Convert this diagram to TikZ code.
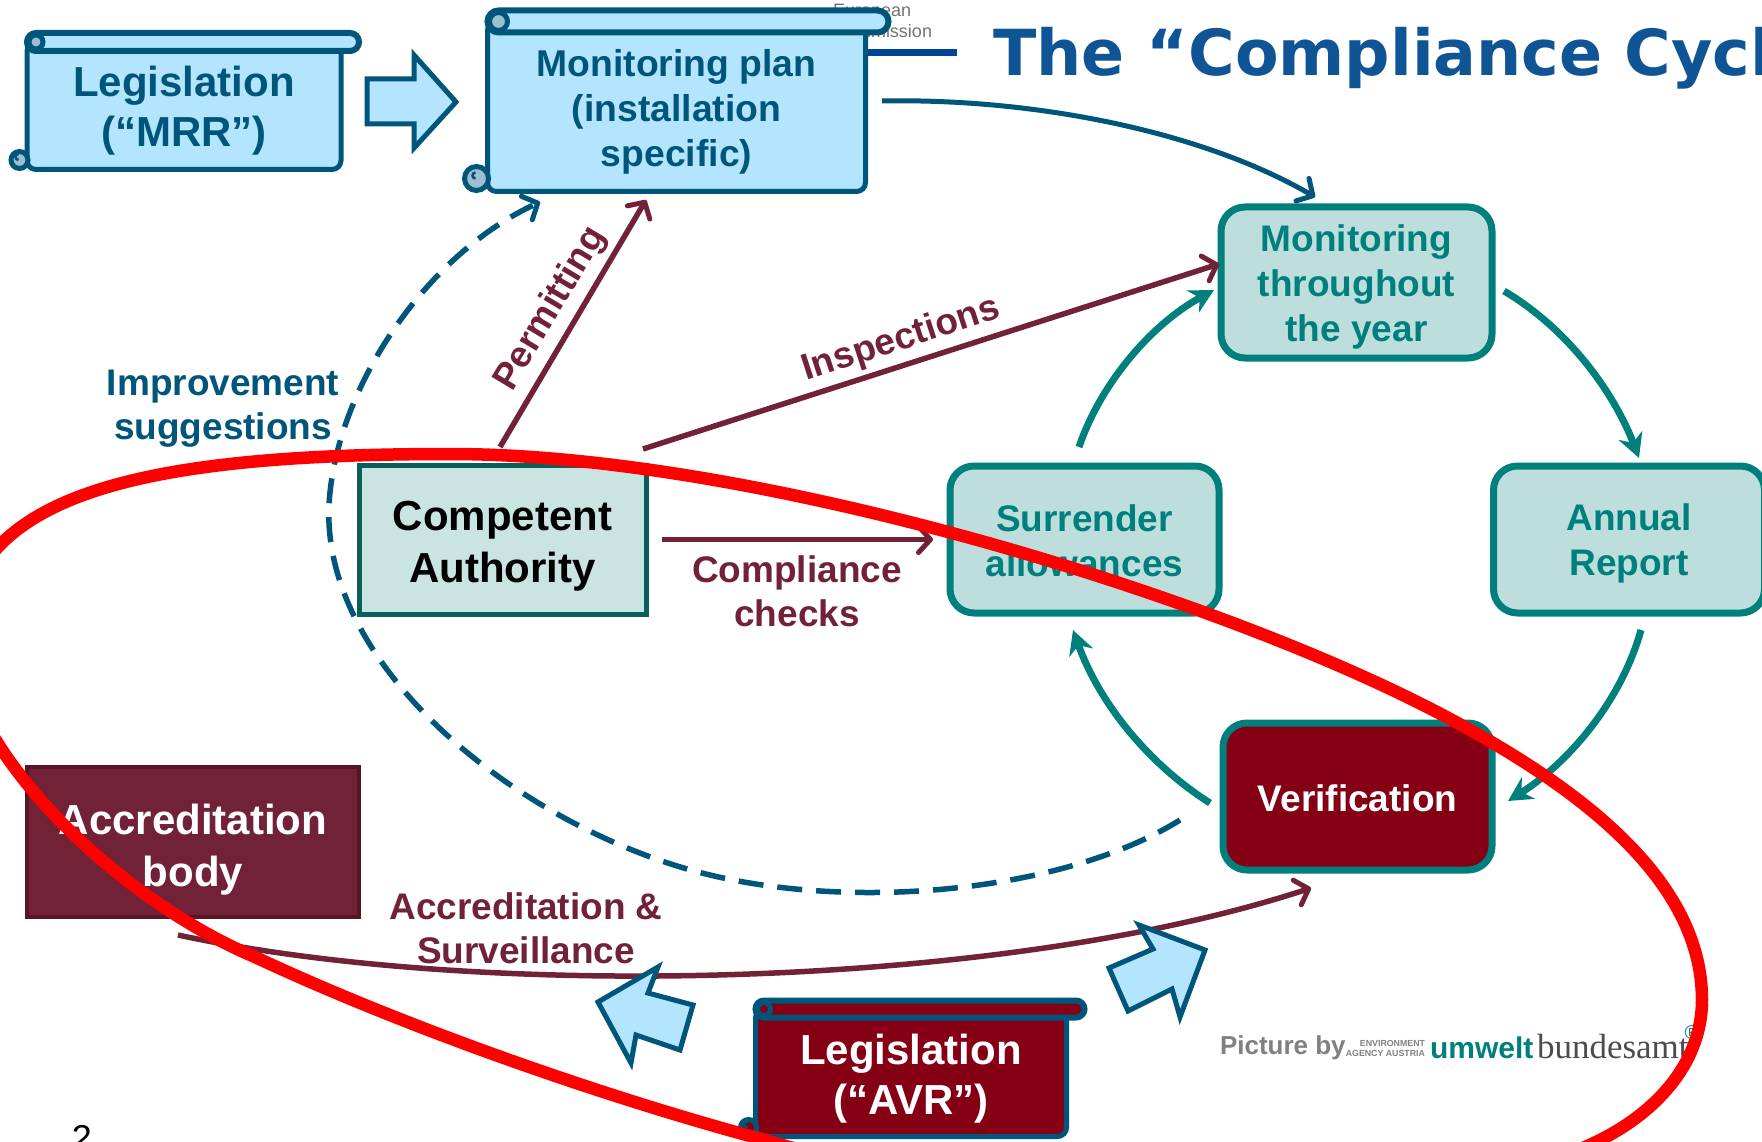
\documentclass[tikz,border=0pt]{standalone}
\usepackage{fontspec}
\setmainfont{Liberation Sans}
\newfontfamily\titlefont{DejaVu Sans}
\newfontfamily\bundesfont{Liberation Serif}
\usepackage{tikz}
\usetikzlibrary{arrows.meta}

\definecolor{scrollblue}{HTML}{00557A}
\definecolor{skyfill}{HTML}{B3E5FF}
\definecolor{curltint}{HTML}{9CBFCF}
\definecolor{cycteal}{HTML}{00807C}
\definecolor{cycfill}{HTML}{BDDEDD}
\definecolor{wine}{HTML}{722236}
\definecolor{darkred}{HTML}{850014}
\definecolor{ruleblue}{HTML}{004494}
\definecolor{titleblue}{HTML}{0F5596}
\definecolor{cafill}{HTML}{CAE4E1}
\definecolor{caedge}{HTML}{0A5F5C}
\definecolor{accredge}{HTML}{561626}

% node, half roll, overhang, curl radius, roll fill, curl fill
\newcommand{\scrollparts}[6]{
\draw[line width=6pt, draw=scrollblue, fill=#5, rounded corners=#2pt] ([yshift=#2pt]#1.north west) rectangle ([xshift=#3pt,yshift=-#2pt]#1.north east);
\draw[line width=5pt, draw=scrollblue, fill=#6] ([xshift=#2pt]#1.north west) circle (#2pt-2pt);
\draw[line width=5pt, draw=scrollblue, fill=#6] ([xshift=-#4pt+2pt,yshift=#4pt]#1.south west) circle (#4pt-1pt);
\draw[line width=2.5pt, draw=scrollblue] ([xshift=-#4pt+1pt,yshift=#4pt]#1.south west) arc (270:90:3pt);
}
% taller first line, pushes the text of a node down
\newcommand{\firstline}[1]{\rule{0pt}{#1pt}}

\begin{document}
\begin{tikzpicture}[x=1pt,y=-1pt,
  every node/.style={font=\bfseries, align=center, outer sep=0pt, inner sep=0pt},
  scrollbody/.style={draw=scrollblue, line width=5pt, fill=skyfill, text=scrollblue, rounded corners=9pt, font=\bfseries\fontsize{42}{50}\selectfont},
  cyclebox/.style={draw=cycteal, line width=7pt, fill=cycfill, text=cycteal, rounded corners=24pt, minimum height=147pt, font=\bfseries\fontsize{37}{45}\selectfont},
  labeltext/.style={font=\bfseries\fontsize{37}{44}\selectfont},
  winearrow/.style={draw=wine, line width=5.5pt, -{Straight Barb[length=12pt,width=26pt,line width=5pt,round]}},
  bluearrow/.style={draw=scrollblue, line width=5pt, -{Straight Barb[length=12pt,width=26pt,line width=5pt,round]}},
  tealarrow/.style={draw=cycteal, line width=7pt, -{Stealth[length=24pt,width=25pt]}},
  dasharrow/.style={draw=scrollblue, line width=5.5pt, dash pattern=on 25pt off 14pt, -{Straight Barb[length=12pt,width=26pt,line width=5pt,round]}},
  blockarrow/.style={draw=scrollblue, line width=5pt, fill=skyfill, miter limit=6},
  redring/.style={draw=red, line width=12.5pt}]
\useasboundingbox (0,0) rectangle (1762,1142);
\clip (0,0) rectangle (1762,1142);

\node[anchor=base west, text=black!55, font=\fontsize{18}{21}\selectfont, align=left] (eclogo) at (833,38) {European\\Commission};
\coordinate (rulestart) at (860,53);
\coordinate (ruleend) at (957,53);
\draw[draw=ruleblue, line width=7pt] (rulestart) -- (ruleend);
\node[anchor=base west, text=titleblue, font=\titlefont\bfseries\fontsize{63.5}{70}\selectfont] (title) at (993,76) {The “Compliance Cycl};
\node[anchor=base, text=black, font=\mdseries\fontsize{36}{40}\selectfont] (pageno) at (82,1150) {2};

\node[scrollbody, minimum width=314pt, minimum height=127.5pt] (mrr) at (184,105.75) {\firstline{40}Legislation\\(“MRR”)};
\scrollparts{mrr}{9}{18}{9.5}{skyfill}{curltint}
\node[scrollbody, minimum width=378pt, minimum height=170pt, font=\bfseries\fontsize{37.3}{45}\selectfont] (plan) at (676.5,106.5) {\firstline{38}Monitoring plan\\(installation\\specific)};
\scrollparts{plan}{11}{23}{13}{skyfill}{curltint}
\draw[blockarrow] (367,79) -- (414,79) -- (414,55) -- (456,102) -- (414,148) -- (414,124) -- (367,124) -- cycle;

\node[cyclebox, minimum width=271pt, minimum height=151pt] (monyear) at (1356.5,282.5) {\firstline{36}Monitoring\\throughout\\the year};
\node[cyclebox, minimum width=269pt] (surr) at (1084.5,539.5) {\firstline{29}Surrender\\allowances};
\node[cyclebox, minimum width=271pt] (annual) at (1629,539.5) {\firstline{35}Annual\\Report};
\node[cyclebox, minimum width=269pt, fill=darkred, text=white] (verif) at (1357.5,796.5) {\firstline{30}Verification};

\node[draw=caedge, line width=5pt, fill=cafill, minimum width=287pt, minimum height=149pt, font=\bfseries\fontsize{42}{52}\selectfont] (ca) at (502.5,539.5) {\firstline{43}Competent\\Authority};
\node[draw=accredge, line width=4pt, fill=wine, text=white, minimum width=332pt, minimum height=150pt, font=\bfseries\fontsize{42}{52}\selectfont] (accr) at (193,842) {\firstline{45}Accreditation\\body};

\draw[bluearrow] ([xshift=16.5pt,yshift=5.5pt]plan.east) .. controls (1030,98) and (1200,130) .. ([xshift=-41.5pt,yshift=10pt]monyear.north);
\draw[winearrow] ([xshift=-2.5pt,yshift=18pt]ca.north) -- ([xshift=-30.5pt,yshift=-8.5pt]plan.south);
\draw[winearrow] ([xshift=-3pt,yshift=16pt]ca.north east) -- ([xshift=-2pt,yshift=18.5pt]monyear.west);
\draw[winearrow] ([xshift=16pt]ca.east) -- ([xshift=-17pt]surr.west);
\draw[winearrow] ([xshift=-15pt,yshift=-18pt]accr.south) .. controls (480,1000) and (1000,990) .. ([xshift=-46.5pt,yshift=-18pt]verif.south);
\draw[dasharrow] ([xshift=-43pt,yshift=-23.5pt]verif.west) .. controls (1060,895) and (830,915) .. (674,865) .. controls (500,810) and (322,660) .. (329,505) .. controls (335,390) and (425,255) .. ([xshift=-136.5pt,yshift=-10.5pt]plan.south);

\draw[tealarrow] ([xshift=12pt,yshift=-8.5pt]monyear.east) .. controls (1570,330) and (1615,395) .. ([xshift=10pt,yshift=8pt]annual.north);
\draw[tealarrow] ([xshift=12pt,yshift=-17pt]annual.south) .. controls (1620,705) and (1565,765) .. ([xshift=16pt,yshift=-4.5pt]verif.east);
\draw[tealarrow] ([xshift=-13pt,yshift=-6.5pt]verif.west) .. controls (1150,765) and (1100,705) .. ([xshift=-11.5pt,yshift=-17pt]surr.south);
\draw[tealarrow] ([xshift=-5.5pt,yshift=19pt]surr.north) .. controls (1100,385) and (1150,325) .. ([xshift=-7pt,yshift=-7.5pt]monyear.west);

\node[labeltext, text=scrollblue] (improve) at (223,409) {Improvement\\suggestions};
\node[labeltext, text=wine, rotate=59] (permit) at (551,309) {Permitting};
\node[labeltext, text=wine, rotate=18] (inspect) at (901,340) {Inspections};
\node[labeltext, text=wine] (checks) at (797,591) {Compliance\\checks};
\node[labeltext, text=wine] (surveil) at (526,928) {Accreditation \&\\Surveillance};

\draw[blockarrow] (598,1002) -- (658,967) -- (648,993) -- (693,1005) -- (680,1050) -- (636,1035) -- (631,1063) -- cycle;
\draw[blockarrow] (1205,950) -- (1139,925) -- (1153,949) -- (1109,968) -- (1128,1011) -- (1172,989) -- (1180,1017) -- cycle;

\node[scrollbody, minimum width=311pt, minimum height=127.5pt, fill=darkred, text=white] (avr) at (911,1072.75) {\firstline{42}Legislation\\(“AVR”)};
\scrollparts{avr}{8.5}{18}{9}{darkred}{darkred}

\node[anchor=base west, text=black!50, font=\bfseries\fontsize{26}{30}\selectfont] (picby) at (1220,1054) {Picture by};
\node[anchor=base east, text=black!50, font=\bfseries\fontsize{8.8}{10}\selectfont, align=right] (envag) at (1425,1056) {ENVIRONMENT\\AGENCY AUSTRIA};
\node[anchor=base west, text=cycteal, font=\bfseries\fontsize{30}{30}\selectfont] (umwelt) at (1430,1058) {umwelt};
\node[anchor=base west, text=black!70, font=\bundesfont\mdseries\fontsize{35}{35}\selectfont] (bundes) at (1537,1058) {bundesamt};
\node[text=cycteal, font=\mdseries\fontsize{20}{20}\selectfont] (regmark) at (1692,1033) {®};

\draw[redring] (-40,650) .. controls (-40,500) and (120,454) .. (450,454) .. controls (750,454) and (1200,590) .. (1433,710) .. controls (1580,786) and (1702,880) .. (1702,1000) .. controls (1702,1060) and (1660,1110) .. (1600,1140) .. controls (1400,1240) and (1000,1210) .. (765,1140) .. controls (600,1096) and (400,1025) .. (255,957) .. controls (120,900) and (-25,760) .. (-40,650) -- cycle;
\end{tikzpicture}
\end{document}
